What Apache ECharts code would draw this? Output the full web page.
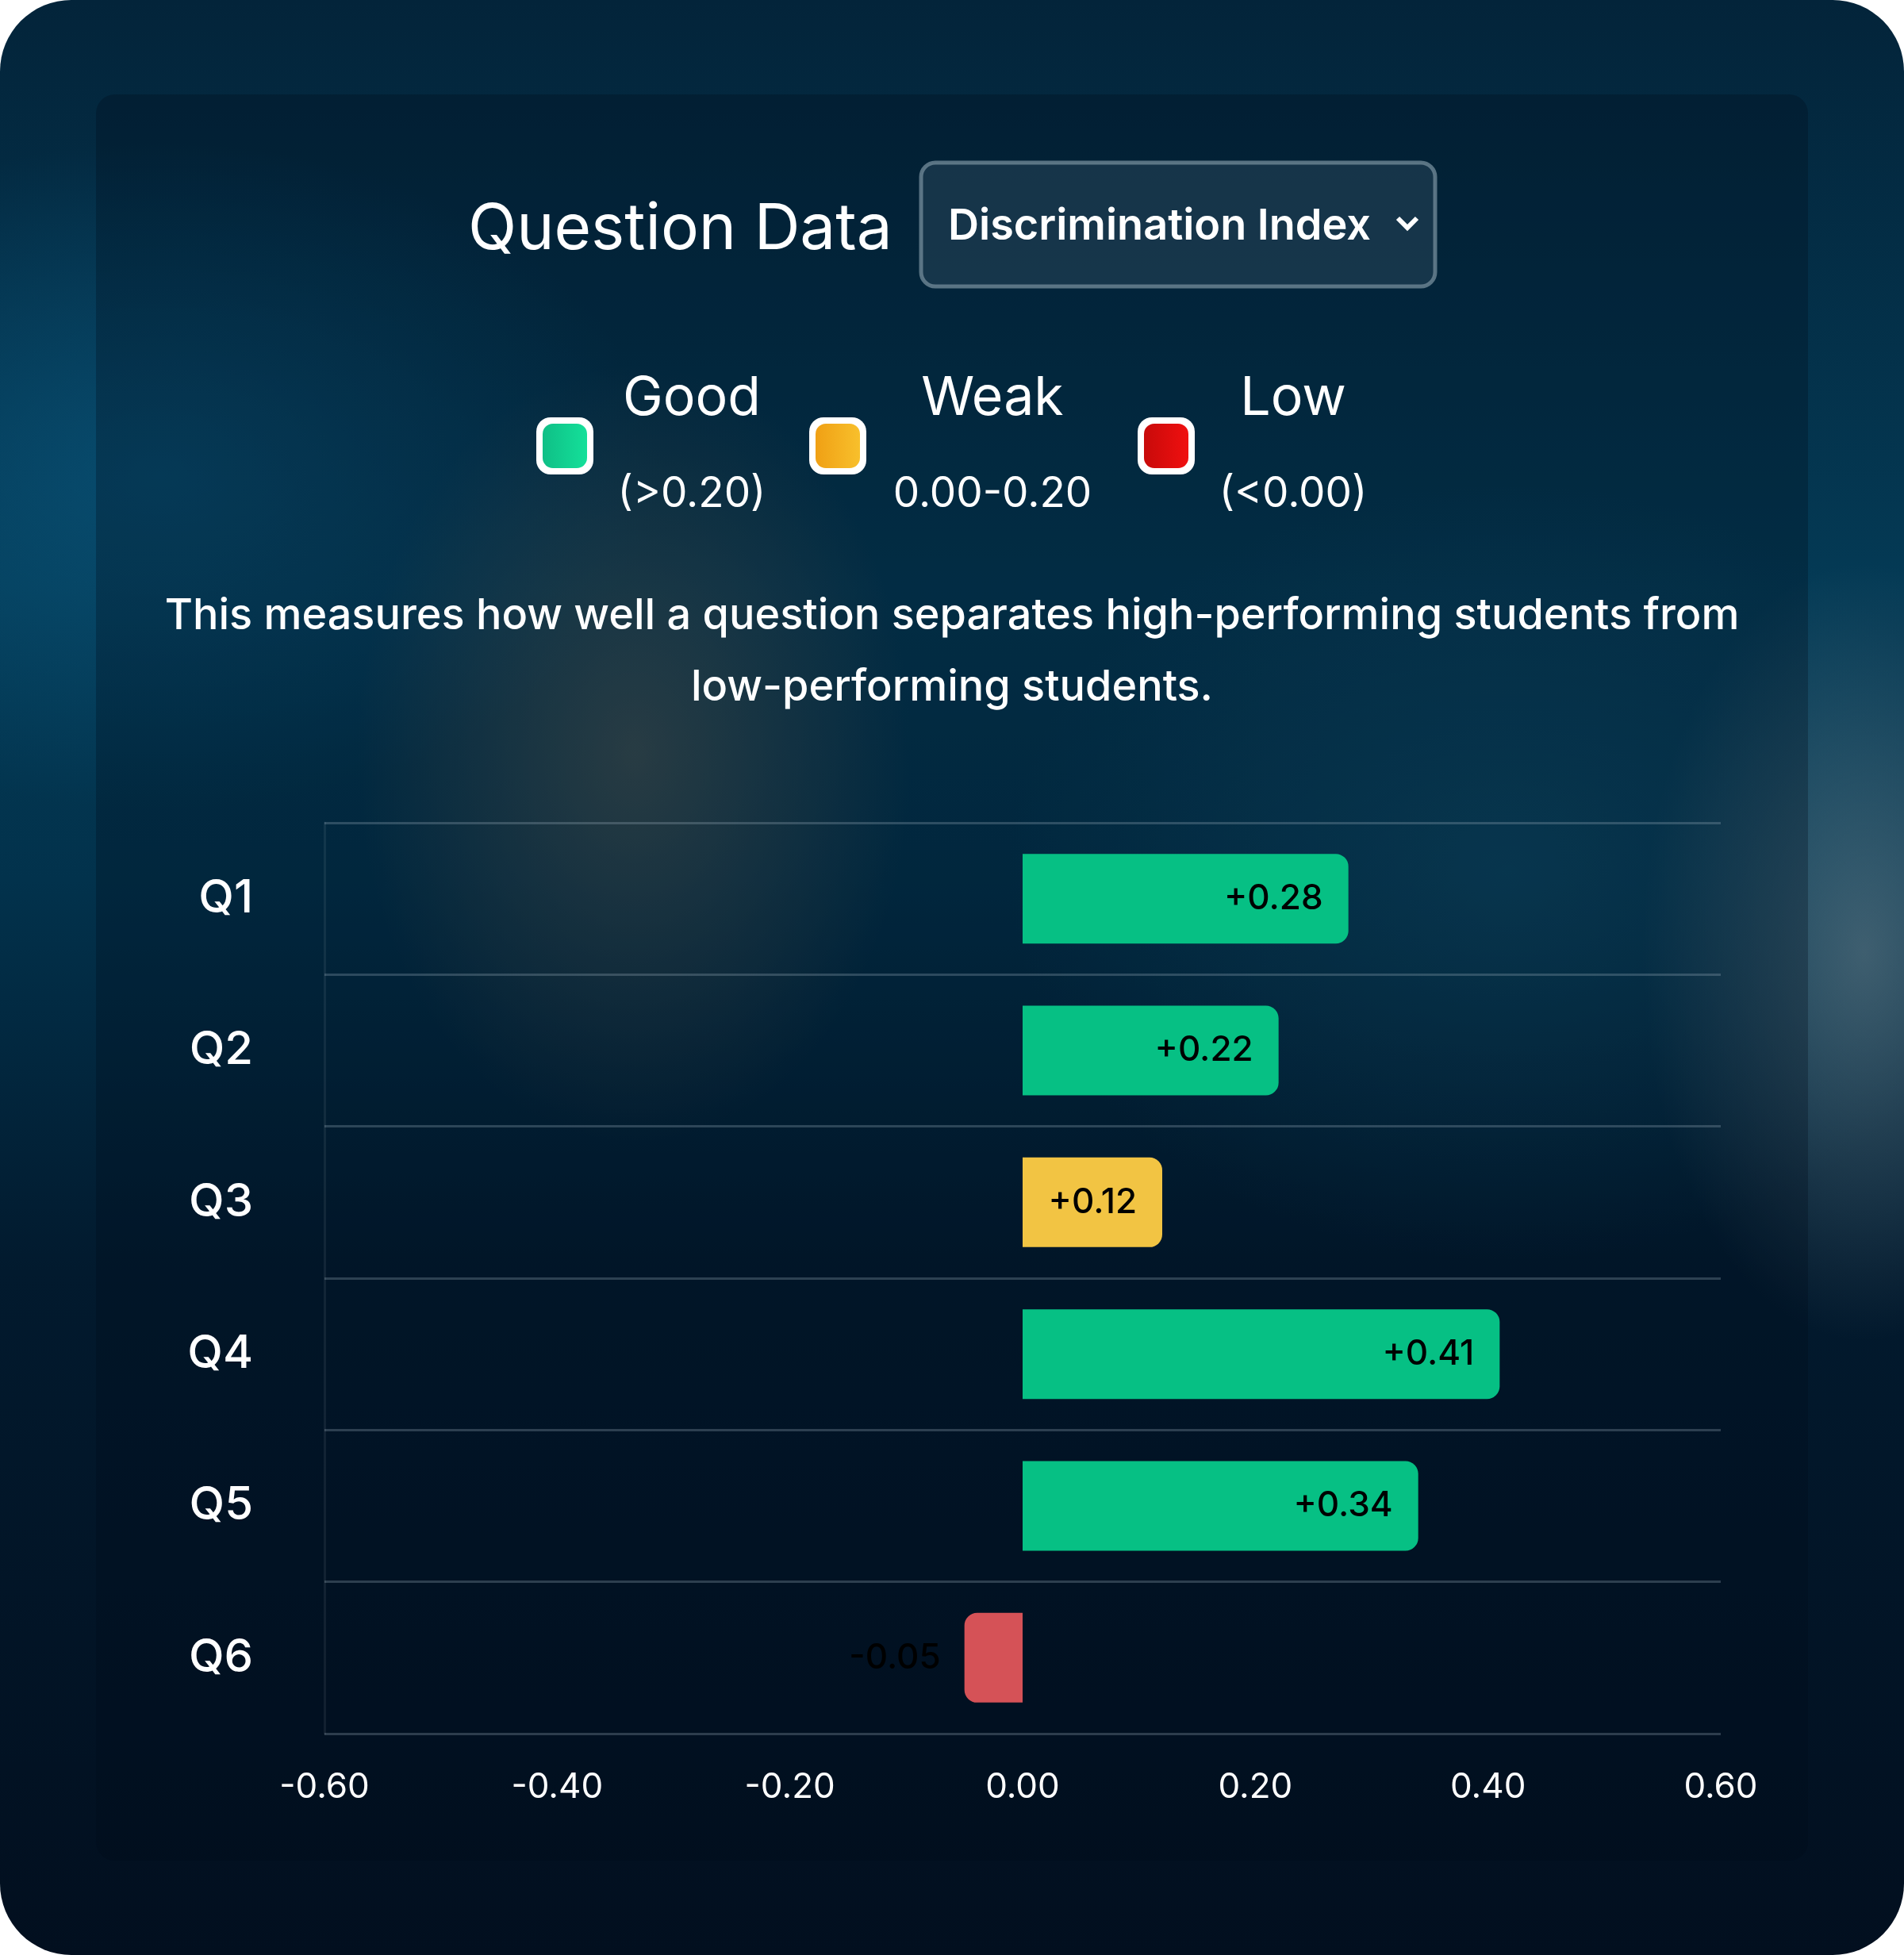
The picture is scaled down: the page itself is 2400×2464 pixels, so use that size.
<!DOCTYPE html>
<html><head><meta charset="utf-8">
<script src="https://cdn.jsdelivr.net/npm/echarts@6/dist/echarts.min.js"></script>
<style>
html,body{margin:0;padding:0;width:2400px;height:2464px;overflow:hidden;background:#fff;}
#bg{position:absolute;left:0;top:0;width:2400px;height:2464px;border-radius:90px;overflow:hidden;
background:
radial-gradient(ellipse 500px 700px at 800px 950px, rgba(120,110,90,0.45), rgba(0,0,0,0) 70%),
radial-gradient(ellipse 400px 700px at 2350px 1200px, rgba(110,130,140,0.55), rgba(0,0,0,0) 70%),
radial-gradient(ellipse 900px 600px at 200px 600px, rgba(10,90,130,0.6), rgba(0,0,0,0) 70%),
radial-gradient(ellipse 900px 700px at 1900px 1100px, rgba(20,90,120,0.5), rgba(0,0,0,0) 70%),
linear-gradient(180deg,#03243a 0%,#043a55 30%,#02324c 45%,#021a2e 65%,#020f1f 100%);}
#card{position:absolute;left:121px;top:119px;width:2158px;height:2226px;border-radius:24px;background:rgba(0,10,25,0.28);}
#c{position:absolute;left:0;top:0;width:2400px;height:2464px;}
</style></head><body>
<div id="bg"></div><div id="card"></div><div id="c"></div>
<script>
const categories=['Q1','Q2','Q3','Q4','Q5','Q6'];
const values=[0.28,0.22,0.12,0.41,0.34,-0.05];
const xTicks=[-0.6,-0.4,-0.2,0,0.2,0.4,0.6];
const legendNames=['Good','Weak','Low'];
const legendRanges=['(>0.20)','0.00-0.20','(<0.00)'];
const FONT='Inter, "Noto Sans", sans-serif';
function colorOf(v){return v>0.2?'#06c084':(v>=0?'#f2c443':'#d55257');}
const chart=echarts.init(document.getElementById('c'),null,{renderer:'canvas'});
const legendX=[712,1056,1470];
const legendCols=[['#0fbf86','#14e09a'],['#f0a014','#f8c02c'],['#c80a0a','#f01010']];
const graphics=[
 {type:'text',left:590,top:250,style:{text:'Question Data',fill:'#fff',font:'400 80px '+FONT}},
 {type:'rect',shape:{x:1161,y:205,width:648,height:156,r:18},style:{fill:'rgba(40,70,90,0.55)',stroke:'rgba(110,135,150,0.8)',lineWidth:5}},
 {type:'text',x:1195,y:286,style:{text:'Discrimination Index',fill:'#fff',font:'600 54px '+FONT,verticalAlign:'middle'}},
 {type:'polyline',shape:{points:[[1762,275],[1774,287],[1786,275]]},style:{stroke:'#fff',lineWidth:6,fill:null}},
 {type:'text',x:1200,y:777,style:{text:'This measures how well a question separates high-performing students from',fill:'#fff',font:'500 54px '+FONT,align:'center',verticalAlign:'middle'}},
 {type:'text',x:1200,y:867,style:{text:'low-performing students.',fill:'#fff',font:'500 54px '+FONT,align:'center',verticalAlign:'middle'}}
];
legendNames.forEach((n,i)=>{
 const cx=legendX[i];
 graphics.push({type:'rect',shape:{x:cx-36,y:526,width:72,height:72,r:18},style:{fill:'#fff'}});
 graphics.push({type:'rect',shape:{x:cx-28,y:534,width:56,height:56,r:13},style:{fill:new echarts.graphic.LinearGradient(0,0,1,0,[{offset:0,color:legendCols[i][0]},{offset:1,color:legendCols[i][1]}])}});
 const tx=[872,1251,1630][i];
 graphics.push({type:'text',x:tx,y:503,style:{text:n,fill:'#fff',font:'400 68px '+FONT,align:'center',verticalAlign:'middle'}});
 graphics.push({type:'text',x:tx,y:623,style:{text:legendRanges[i],fill:'#fff',font:'400 53px '+FONT,align:'center',verticalAlign:'middle'}});
});
chart.setOption({
 backgroundColor:'transparent',
 animation:false,
 graphic:graphics,
 grid:{left:409,right:231,top:1037,bottom:279,containLabel:false},
 xAxis:{type:'value',min:-0.6,max:0.6,interval:0.2,
  axisLine:{show:false},axisTick:{show:false},splitLine:{show:false},
  axisLabel:{color:'#fff',fontSize:44,fontFamily:FONT,margin:46,formatter:v=>v.toFixed(2)}},
 yAxis:{type:'category',data:categories,inverse:true,
  axisLine:{show:true,onZero:false,lineStyle:{color:'rgba(255,255,255,0.07)',width:3}},
  axisTick:{show:false},
  splitLine:{show:true,lineStyle:{color:'rgba(160,180,195,0.28)',width:3}},
  axisLabel:{color:'#fff',fontSize:58,fontWeight:500,fontFamily:FONT,margin:90}},
 series:[{type:'bar',barWidth:113,
  data:values.map(v=>({value:v,itemStyle:{color:colorOf(v),borderRadius:v>=0?[0,16,16,0]:[16,0,0,16]},
   label:v>=0?{position:'insideRight',distance:32}:{position:'left',distance:30}})),
  label:{show:true,color:'#000',fontSize:44,fontWeight:500,fontFamily:FONT,
   formatter:p=>(p.value>0?'+':'')+p.value.toFixed(2)}}]
});
</script></body></html>
